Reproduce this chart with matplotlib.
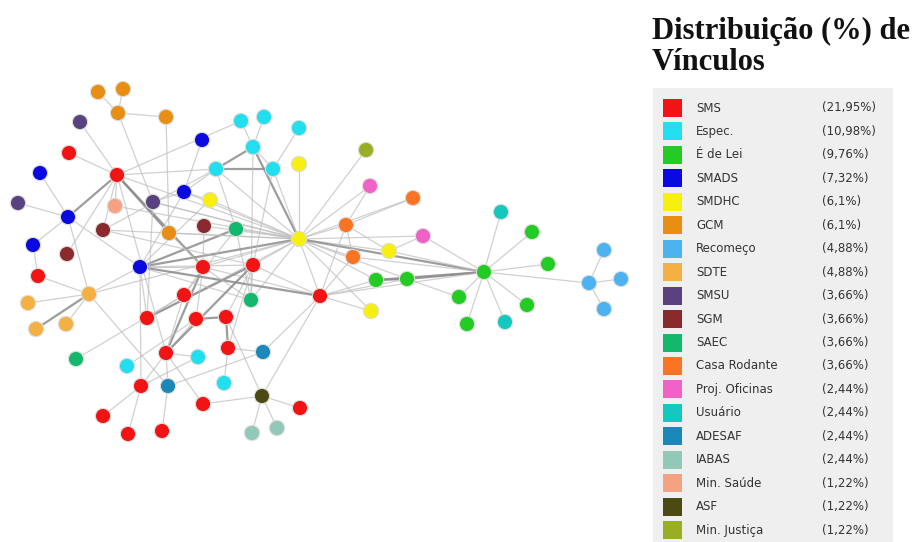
import matplotlib.pyplot as plt
from matplotlib.patches import Rectangle

# legend categories, colours and shares
groups = ["SMS", "Espec.", "É de Lei", "SMADS", "SMDHC", "GCM", "Recomeço", "SDTE",
          "SMSU", "SGM", "SAEC", "Casa Rodante", "Proj. Oficinas", "Usuário",
          "ADESAF", "IABAS", "Min. Saúde", "ASF", "Min. Justiça"]
shares = ["(21,95%)", "(10,98%)", "(9,76%)", "(7,32%)", "(6,1%)", "(6,1%)", "(4,88%)",
          "(4,88%)", "(3,66%)", "(3,66%)", "(3,66%)", "(3,66%)", "(2,44%)", "(2,44%)",
          "(2,44%)", "(2,44%)", "(1,22%)", "(1,22%)", "(1,22%)"]
colors = ["#f21414", "#22dff0", "#22cc22", "#0a0ae0", "#f7ef10", "#e88e12", "#4cb2f0",
          "#f5b042", "#5a4280", "#8a2a2e", "#14b86c", "#fb7424", "#f062c8", "#14c8c0",
          "#1a88b8", "#92c8b8", "#f5a282", "#4a4a12", "#9aae22"]

# nodes (layout in picture pixels)
node_names = ["r1", "r2", "r3", "r4", "r5", "r6", "r7", "r8", "r9", "r10", "r11", "r12",
              "r13", "r14", "r15", "r16", "r17", "r18",
              "e1", "e2", "e3", "e4", "e5", "e6", "e7", "e8", "e9",
              "g1", "g2", "g3", "g4", "g5", "g6", "g7", "g8",
              "b1", "b2", "b3", "b4", "b5", "b6",
              "y1", "y2", "y3", "y4", "y5",
              "o1", "o2", "o3", "o4", "o5",
              "rc1", "rc2", "rc3", "rc4",
              "s1", "s2", "s3", "s4",
              "p1", "p2", "p3",
              "m1", "m2", "m3",
              "a1", "a2", "a3",
              "c1", "c2", "c3",
              "k1", "k2",
              "u1", "u2",
              "d1", "d2",
              "i1", "i2",
              "ms", "asf", "mj"]
node_group = [0] * 18 + [1] * 9 + [2] * 8 + [3] * 6 + [4] * 5 + [5] * 5 + [6] * 4 + \
             [7] * 4 + [8] * 3 + [9] * 3 + [10] * 3 + [11] * 3 + [12] * 2 + [13] * 2 + \
             [14] * 2 + [15] * 2 + [16, 17, 18]
node_x = [69, 117, 38, 203, 253, 184, 320, 147, 196, 226, 166, 228, 141, 203, 300, 103, 162, 128,
          241, 264, 299, 253, 216, 273, 198, 127, 224,
          376, 407, 459, 467, 484, 532, 548, 527,
          202, 40, 184, 68, 33, 140,
          299, 210, 299, 389, 371,
          98, 123, 118, 166, 169,
          604, 589, 621, 604,
          89, 28, 36, 66,
          80, 18, 153,
          103, 204, 67,
          236, 251, 76,
          413, 346, 353,
          370, 423,
          501, 505,
          263, 168,
          252, 277,
          115, 262, 366]
node_y = [153, 175, 276, 267, 265, 295, 296, 318, 319, 317, 353, 348, 386, 404, 408, 416, 431, 434,
          121, 117, 128, 147, 169, 169, 357, 366, 383,
          280, 279, 297, 324, 272, 232, 264, 305,
          140, 173, 192, 217, 245, 267,
          164, 200, 239, 251, 311,
          92, 89, 113, 117, 233,
          250, 283, 279, 309,
          294, 303, 329, 324,
          122, 203, 202,
          230, 226, 254,
          229, 300, 359,
          198, 225, 257,
          186, 236,
          212, 322,
          352, 386,
          433, 428,
          206, 396, 150]

# edges: (from, to, weight)
edges = [
    ("o1", "o3", 1), ("o2", "o3", 1), ("o3", "o4", 1), ("o3", "p3", 1), ("o4", "o5", 1),
    ("p1", "r2", 1), ("r1", "r2", 1), ("b2", "b4", 1), ("p2", "b4", 1), ("b4", "r2", 2),
    ("b4", "b5", 1), ("b4", "b6", 1), ("b4", "s1", 1), ("r2", "ms", 1), ("r2", "o5", 2),
    ("r2", "r4", 2), ("r2", "e5", 1), ("r2", "y3", 1), ("b1", "b3", 1), ("b3", "b6", 1),
    ("e1", "e4", 1), ("e2", "e4", 1), ("e3", "e6", 1), ("e4", "e5", 2), ("e4", "e6", 1),
    ("e5", "e6", 2), ("e4", "y3", 2), ("e6", "y3", 1), ("y1", "y3", 1), ("e5", "y3", 1),
    ("e5", "a1", 1), ("m2", "y3", 1), ("a1", "b6", 2), ("a1", "a2", 1), ("a1", "y3", 1),
    ("y3", "mj", 1), ("y3", "k1", 1), ("y3", "c1", 1), ("y3", "c2", 1), ("y3", "c3", 1),
    ("y3", "k2", 1), ("y3", "y4", 1), ("y3", "r7", 1), ("y3", "g1", 1), ("y3", "g2", 1),
    ("y3", "y5", 1), ("y3", "a2", 1), ("y3", "r5", 1), ("y3", "r4", 1), ("y3", "b6", 2),
    ("y3", "y2", 1), ("y3", "p3", 1), ("y3", "o5", 1), ("y3", "b3", 1), ("y3", "s1", 1),
    ("y3", "m1", 1), ("y3", "r8", 1),
    ("g5", "g1", 2), ("g5", "g2", 2), ("g5", "g3", 1), ("g5", "g4", 1), ("g5", "g6", 1),
    ("g5", "g7", 1), ("g5", "g8", 1), ("g5", "u1", 1), ("g5", "u2", 1), ("g5", "rc2", 1),
    ("g5", "k2", 1), ("g5", "y3", 2), ("g5", "y4", 1), ("g5", "c3", 1), ("g5", "r7", 1),
    ("rc1", "rc2", 1), ("rc2", "rc3", 1), ("rc2", "rc4", 1), ("g1", "g2", 2), ("g2", "g3", 1),
    ("c2", "c3", 1), ("c2", "k1", 1), ("c1", "c2", 1), ("c2", "y4", 1), ("y4", "k2", 1),
    ("r7", "r5", 1), ("r7", "r4", 1), ("r7", "g2", 1), ("r7", "c2", 1), ("r7", "c3", 1),
    ("r7", "d1", 1), ("r7", "asf", 1), ("r7", "y5", 1), ("r7", "g1", 1),
    ("asf", "r15", 1), ("asf", "i1", 1), ("asf", "i2", 1), ("asf", "r14", 1), ("d2", "d1", 1),
    ("r10", "asf", 1), ("s1", "s2", 1), ("s1", "s3", 2), ("s1", "s4", 1), ("s1", "b6", 1),
    ("s1", "d2", 1), ("s1", "r3", 1), ("r3", "b5", 1), ("a3", "r6", 1), ("b6", "r13", 1),
    ("r13", "r16", 1), ("r13", "r18", 1), ("r13", "r11", 1), ("d2", "r17", 1),
    ("r11", "r4", 2), ("r11", "r6", 1), ("r11", "e7", 1), ("r11", "r14", 1),
    ("r8", "r5", 2), ("r8", "r6", 1), ("r8", "b6", 1), ("r9", "r10", 2), ("r9", "r4", 1),
    ("r10", "r12", 2), ("r10", "r5", 1), ("e9", "r12", 1), ("r6", "r4", 1), ("r6", "a1", 1),
    ("b6", "r4", 1), ("b6", "r5", 1), ("b6", "r7", 2), ("b6", "a2", 1), ("b6", "y2", 1),
    ("m1", "r2", 1), ("m1", "e5", 1), ("m3", "r2", 1), ("p3", "b3", 1), ("p3", "r8", 1),
    ("m2", "r4", 1), ("y2", "b3", 1), ("e5", "b3", 1), ("e1", "r2", 1), ("o5", "r4", 1),
    ("ms", "y3", 1), ("r4", "a2", 1), ("r11", "d2", 1), ("e8", "r9", 1), ("r12", "r5", 1),
    ("r9", "r11", 1), ("r11", "r5", 2), ("d1", "r12", 1), ("r13", "e7", 1), ("a2", "r5", 1),
    ("e6", "r5", 1), ("e4", "a2", 1), ("r2", "r11", 1), ("m1", "r5", 1), ("p3", "y3", 1),
]

pos = {n: (x, y) for n, x, y in zip(node_names, node_x, node_y)}

fig = plt.figure(figsize=(9.23, 5.42), dpi=100)
ax = fig.add_axes([0, 0, 1, 1])
ax.set_xlim(0, 923)
ax.set_ylim(542, 0)
ax.axis("off")

for a, b, w in edges:
    (x0, y0), (x1, y1) = pos[a], pos[b]
    if w > 1:
        ax.plot([x0, x1], [y0, y1], color="#8c8c8c", lw=1.6, alpha=0.85, zorder=1)
    else:
        ax.plot([x0, x1], [y0, y1], color="#bdbdbd", lw=0.9, alpha=0.7, zorder=1)

ax.scatter(node_x, node_y, s=120, c=[colors[g] for g in node_group],
           edgecolors="#dddddd", linewidths=0.8, zorder=3)

# legend panel
ax.add_patch(Rectangle((653, 88), 240, 460, facecolor="#efefef", edgecolor="none", zorder=0))
ax.text(652, 17, "Distribuição (%) de\nVínculos", fontsize=22, fontweight="bold",
        family="Liberation Serif", va="top", ha="left", linespacing=1.08, color="#111111")

for i, (g, s, c) in enumerate(zip(groups, shares, colors)):
    yy = 108 + i * 23.45
    ax.add_patch(Rectangle((663, yy - 9), 19, 18, facecolor=c, edgecolor="none", zorder=2))
    ax.text(696, yy, g, fontsize=8.5, va="center", ha="left", color="#333333",
            family="DejaVu Sans")
    ax.text(822, yy, s, fontsize=8.5, va="center", ha="left", color="#333333",
            family="DejaVu Sans")

plt.savefig("out.png", dpi=100)
